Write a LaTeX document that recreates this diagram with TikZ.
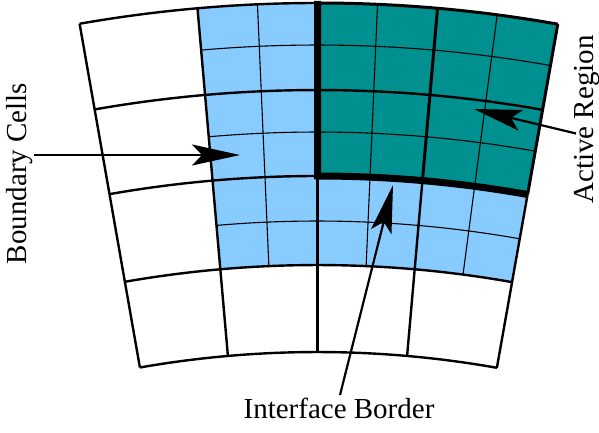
\documentclass[tikz,border=0pt]{standalone}
\usepackage{fontspec}
\setmainfont{Liberation Serif}
\usetikzlibrary{arrows.meta}
\definecolor{cellblue}{HTML}{88CCFF}
\definecolor{activeteal}{HTML}{009090}
\tikzset{
  thinline/.style={line width=1.1pt},
  midline/.style={line width=2.4pt},
  activeline/.style={line width=3pt},
  borderline/.style={line width=7pt},
  pointer/.style={line width=2.2pt,-{Stealth[length=48pt,width=21pt,inset=10pt]}},
  lbl/.style={font=\fontsize{29}{31}\selectfont,inner sep=0pt,anchor=base}
}
% sector: angle a to b (clockwise from top), radii r1 to r2
\newcommand{\sector}[5]{\path[fill=#5] (90-#1:#3) arc[start angle=90-#1,end angle=90-#2,radius=#3] -- (90-#2:#4) arc[start angle=90-#2,end angle=90-#1,radius=#4] -- cycle;}
\newcommand{\rarc}[4][midline]{\draw[#1] (90-#2:#4) arc[start angle=90-#2,end angle=90-#3,radius=#4];}
\newcommand{\spoke}[4][midline]{\draw[#1] (90-#2:#3) -- (90-#2:#4);}
\begin{document}
\begin{tikzpicture}[x=1pt,y=1pt]
\useasboundingbox (0,0) rectangle (599,432);
\begin{scope}[shift={(317.5,-948)}]
  \sector{-5}{0}{1115}{1377}{cellblue}
  \sector{0}{10.05}{1115}{1204}{cellblue}
  \sector{0}{10.05}{1204}{1377}{activeteal}
  % thin subdivisions
  \rarc[thinline]{-5}{10.05}{1335}
  \rarc[thinline]{-5}{10.05}{1248}
  \rarc[thinline]{-5}{10.05}{1159}
  \spoke[thinline]{-2.5}{1115}{1377}
  \spoke[thinline]{2.5}{1115}{1377}
  \spoke[thinline]{7.5}{1115}{1377}
  % main grid
  \rarc{-9.95}{10.05}{1290}
  \rarc{-9.95}{0}{1204}
  \rarc{-9.95}{10.05}{1115}
  \rarc{-9.95}{10.05}{1028}
  \rarc{-9.95}{0}{1377}
  \spoke{-9.95}{1028}{1377}
  \spoke{-5}{1028}{1377}
  \spoke{0}{1028}{1204}
  \spoke{5}{1028}{1204}
  \spoke{10.05}{1028}{1204}
  % active region
  \rarc[activeline]{0}{10.05}{1377}
  \spoke[activeline]{5}{1204}{1377}
  \spoke[activeline]{10.05}{1204}{1377}
  \draw[borderline,line join=miter] (90:1379) -- (90:1204) arc[start angle=90,end angle=79.95,radius=1204];
\end{scope}
\coordinate (bcs) at (34,277);
\coordinate (bct) at (240,277);
\coordinate (ars) at (576,298.5);
\coordinate (art) at (474,323);
\coordinate (ibs) at (340,37);
\coordinate (ibt) at (393,247);
\draw[pointer] (bcs) -- (bct);
\draw[pointer] (ars) -- (art);
\draw[pointer] (ibs) -- (ibt);
\node[lbl,rotate=90] (bc) at (27,258.5) {Boundary Cells};
\node[lbl,rotate=90] (ar) at (593,312.5) {Active Region};
\node[lbl] (ib) at (339,14) {Interface Border};
\end{tikzpicture}
\end{document}
